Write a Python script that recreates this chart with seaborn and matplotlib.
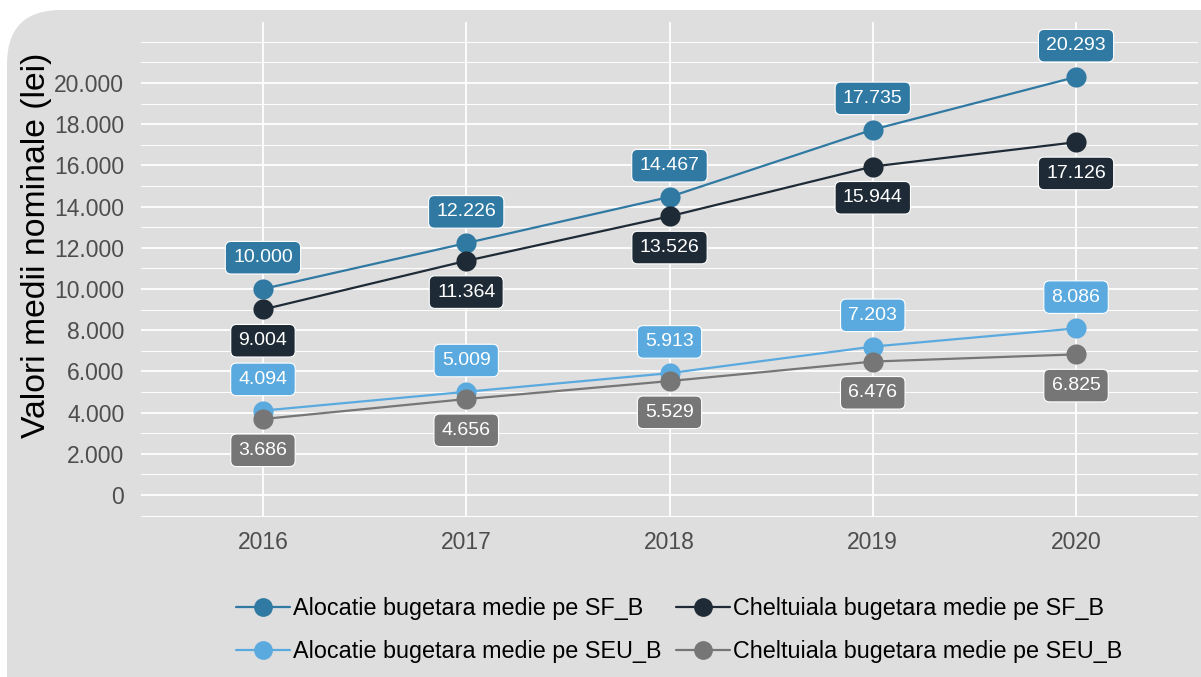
import pandas as pd
import numpy as np
import matplotlib.pyplot as plt
import seaborn as sns
from matplotlib.patches import FancyBboxPatch
from matplotlib.ticker import FuncFormatter, MultipleLocator

# Data
years = [2016, 2017, 2018, 2019, 2020]
aloc_sf = [10000, 12226, 14467, 17735, 20293]
chelt_sf = [9004, 11364, 13526, 15944, 17126]
aloc_seu = [4094, 5009, 5913, 7203, 8086]
chelt_seu = [3686, 4656, 5529, 6476, 6825]
y_ticks = [0, 2000, 4000, 6000, 8000, 10000, 12000, 14000, 16000, 18000, 20000]

series_names = [
    'Alocatie bugetara medie pe SF_B',
    'Alocatie bugetara medie pe SEU_B',
    'Cheltuiala bugetara medie pe SF_B',
    'Cheltuiala bugetara medie pe SEU_B',
]
series_values = [aloc_sf, aloc_seu, chelt_sf, chelt_seu]
colors = ['#2f79a3', '#5aaadf', '#1e2b36', '#767676']
label_above = [True, True, False, False]

df = pd.DataFrame({
    'an': years * 4,
    'valoare': aloc_sf + aloc_seu + chelt_sf + chelt_seu,
    'serie': [n for n in series_names for _ in years],
})

sns.set_theme(style='darkgrid')
plt.rcParams['font.family'] = ['Liberation Sans', 'DejaVu Sans']

W, H = 1201, 677
fig = plt.figure(figsize=(W / 100, H / 100), dpi=100, facecolor='white')
bg = '#dedede'

# rounded card behind the plot
card = FancyBboxPatch((7 / W, -0.2), 1.2, (H - 10) / H + 0.2,
                      boxstyle='round,pad=0,rounding_size=0.045',
                      transform=fig.transFigure, facecolor=bg,
                      edgecolor='none', mutation_aspect=W / H, zorder=-10)
fig.patches.append(card)

ax = fig.add_axes([141 / W, 1 - 517 / H, (1198 - 141) / W, (517 - 22) / H])
ax.set_facecolor(bg)
ax.set_zorder(1)

sns.lineplot(data=df, x='an', y='valoare', hue='serie', hue_order=series_names,
             palette=dict(zip(series_names, colors)), marker='o',
             markersize=14.5, markeredgewidth=0, linewidth=1.6, ax=ax, zorder=3)

# value labels
for vals, col, above in zip(series_values, colors, label_above):
    for x, v in zip(years, vals):
        txt = f'{v:,}'.replace(',', '.')
        ax.annotate(txt, (x, v), xytext=(0, 22.5 if above else -22.5),
                    textcoords='offset points', ha='center', va='center',
                    color='white', fontsize=14, zorder=5,
                    bbox=dict(boxstyle='round,pad=0.4,rounding_size=0.3',
                              facecolor=col, edgecolor='white', linewidth=0.8))

ax.set_xlim(2015.4, 2020.6)
ax.set_ylim(-1070, 22960)
ax.set_xticks(years)
ax.set_yticks(y_ticks)
ax.yaxis.set_minor_locator(MultipleLocator(1000))
ax.yaxis.set_major_formatter(FuncFormatter(lambda v, p: f'{int(v):,}'.replace(',', '.')))
ax.grid(which='major', color='white', linewidth=1.3)
ax.grid(which='minor', axis='y', color='white', linewidth=0.7)
ax.tick_params(axis='both', which='both', length=0, labelsize=16.5, labelcolor='#4d4d4d')
ax.tick_params(axis='y', pad=12)
ax.tick_params(axis='x', pad=10)
for s in ax.spines.values():
    s.set_visible(False)

ax.set_xlabel('')
ax.set_ylabel('Valori medii nominale (lei)', fontsize=24.3, color='black')
ax.yaxis.set_label_coords(-0.0842, 0.548)

handles, labels = ax.get_legend_handles_labels()
ax.get_legend().remove()
for h in handles:
    h.set_markersize(13.5)
leg = fig.legend(handles, labels, ncol=2, loc='center', bbox_to_anchor=(679 / W, 1 - 630 / H),
                 frameon=False, fontsize=16.8, handlelength=2.3, columnspacing=0.65,
                 handletextpad=0.12, labelspacing=0.88)
for t in leg.get_texts():
    t.set_color('black')

fig.savefig('out.png', dpi=100, facecolor='white')
